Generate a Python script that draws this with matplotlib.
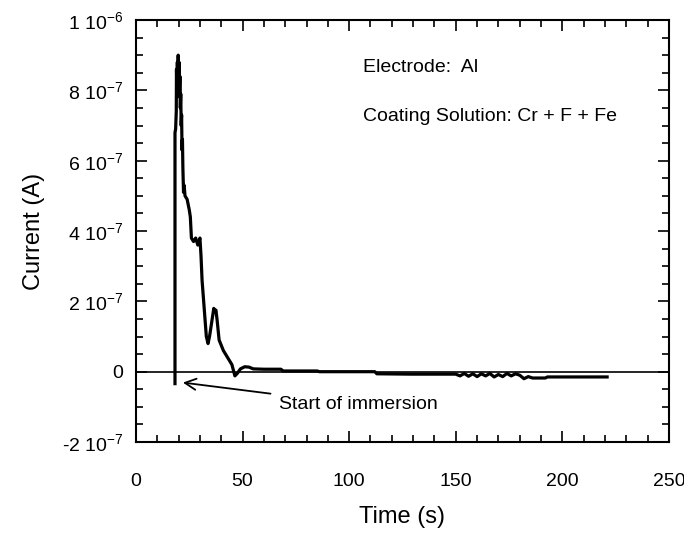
import matplotlib
matplotlib.use('Agg')
import matplotlib.pyplot as plt
from matplotlib.ticker import MultipleLocator, FixedLocator

plt.rcParams['font.family'] = ['Liberation Sans', 'DejaVu Sans']
plt.rcParams['mathtext.default'] = 'regular'

# current transient, time in s, current in units of 1e-7 A
time_s = [18.3, 18.3, 18.6, 18.9, 19.0, 19.2, 19.4, 19.6, 19.8, 20.0, 20.2,
          20.4, 20.6, 20.8, 21.0, 21.2, 21.4, 21.6, 21.8, 22.0, 22.3, 22.6,
          23.0, 24.0, 25.0, 25.5, 26.0, 27.0, 28.0, 29.0, 30.0, 30.5, 31.0,
          32.0, 32.5, 33.0, 33.8, 34.5, 35.5, 36.5, 37.0, 37.5, 38.0, 39.0,
          40.0, 41.0, 42.0, 43.0, 44.0, 45.0, 46.4, 47.5, 49.0, 51.0, 53.0,
          55.0, 60.0, 68.0, 69.0, 85.0, 86.0, 112.0, 113.0, 129.0, 150.0,
          152.0, 154.0, 156.0, 158.0, 160.0, 162.0, 164.0, 166.0, 168.0,
          170.0, 172.0, 174.0, 176.0, 178.0, 180.0, 182.0, 184.0, 186.0,
          192.0, 193.0, 221.0]
current_e7 = [-0.34, 6.8, 6.9, 7.4, 8.6, 7.8, 8.8, 8.2, 9.0, 8.3, 8.8,
              7.9, 8.4, 7.5, 7.9, 7.0, 7.3, 6.3, 6.6, 5.8, 5.1, 5.3,
              5.0, 4.9, 4.6, 4.4, 3.8, 3.7, 3.8, 3.6, 3.8, 3.3, 2.6,
              1.8, 1.4, 1.0, 0.8, 1.0, 1.4, 1.8, 1.7, 1.75, 1.5, 0.9,
              0.75, 0.6, 0.5, 0.4, 0.3, 0.2, -0.12, -0.05, 0.08, 0.14, 0.13,
              0.08, 0.07, 0.07, 0.02, 0.02, 0.0, 0.0, -0.06, -0.07, -0.07,
              -0.12, -0.05, -0.13, -0.06, -0.14, -0.06, -0.12, -0.05, -0.15,
              -0.08, -0.14, -0.05, -0.12, -0.06, -0.1, -0.2, -0.14, -0.18,
              -0.18, -0.15, -0.15]

y_ticks = [-2e-7, 0, 2e-7, 4e-7, 6e-7, 8e-7, 1e-6]
y_tick_labels = [r'-2 10$^{-7}$', '0', r'2 10$^{-7}$', r'4 10$^{-7}$',
                 r'6 10$^{-7}$', r'8 10$^{-7}$', r'1 10$^{-6}$']

current = [c * 1e-7 for c in current_e7]

fig = plt.figure(figsize=(6.84, 5.35), dpi=100)
ax = fig.add_axes([0.1988, 0.1738, 0.7792, 0.7888])

ax.axhline(0, color='black', lw=1.2)
ax.plot(time_s, current, color='black', lw=2.3)

ax.set_xlim(0, 250)
ax.set_ylim(-2e-7, 1e-6)
ax.xaxis.set_major_locator(MultipleLocator(50))
ax.xaxis.set_minor_locator(MultipleLocator(10))
ax.yaxis.set_major_locator(FixedLocator(y_ticks))
ax.yaxis.set_minor_locator(MultipleLocator(5e-8))
ax.set_yticklabels(y_tick_labels)

ax.tick_params(which='both', direction='in', top=True, right=True,
               labelsize=14, width=1.2)
ax.tick_params(axis='x', pad=22)
ax.tick_params(axis='y', pad=9)
ax.tick_params(which='major', length=8)
ax.tick_params(which='minor', length=5)
for s in ax.spines.values():
    s.set_linewidth(1.5)

ax.set_xlabel('Time (s)', fontsize=17, labelpad=12)
ax.set_ylabel('Current (A)', fontsize=17, labelpad=12)

ax.text(106.5, 8.64e-7, 'Electrode:  Al', fontsize=14, va='center')
ax.text(106.5, 7.27e-7, 'Coating Solution: Cr + F + Fe', fontsize=14,
        va='center')

ax.annotate('Start of immersion', xy=(22, -0.31e-7), xytext=(67, -0.94e-7),
            fontsize=14, va='center',
            arrowprops=dict(arrowstyle='->', color='black', lw=1.3,
                            shrinkA=4, shrinkB=0, mutation_scale=20))

fig.savefig('out.png', dpi=100)
